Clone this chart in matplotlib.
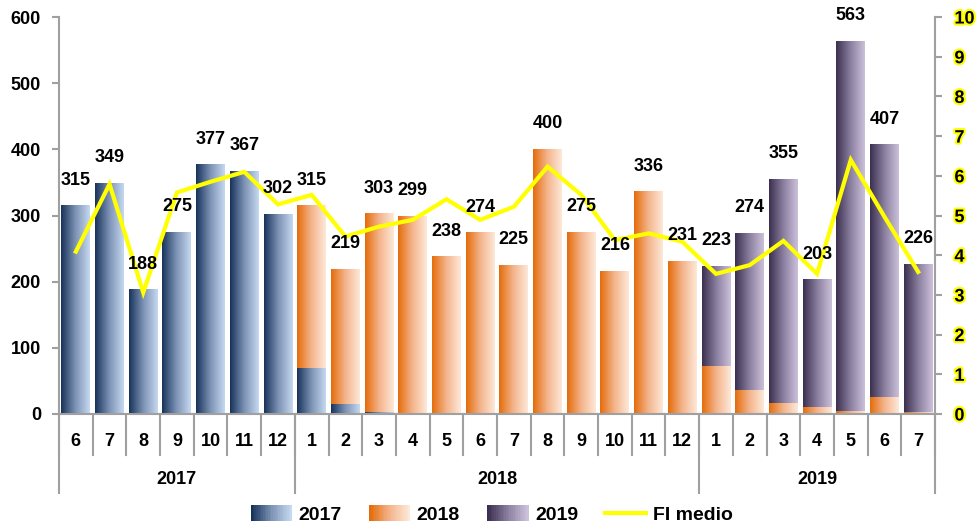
import numpy as np
import matplotlib
matplotlib.use("Agg")
import matplotlib.pyplot as plt
import matplotlib.patheffects as pe
from matplotlib.colors import LinearSegmentedColormap
from matplotlib.legend_handler import HandlerBase
from matplotlib.patches import Rectangle
from matplotlib.lines import Line2D
from matplotlib.transforms import blended_transform_factory

plt.rcParams["font.family"] = ["Liberation Sans Narrow", "Liberation Sans", "DejaVu Sans"]
plt.rcParams["font.weight"] = "bold"

months = [6, 7, 8, 9, 10, 11, 12,
          1, 2, 3, 4, 5, 6, 7, 8, 9, 10, 11, 12,
          1, 2, 3, 4, 5, 6, 7]
years = ["2017", "2018", "2019"]
year_counts = [7, 12, 7]

# stacked parts of each month's bar, by year of origin
s2017 = [315, 349, 188, 275, 377, 367, 302,
         70, 15, 3, 0, 0, 0, 0, 0, 0, 0, 0, 0,
         0, 0, 0, 0, 0, 0, 0]
s2018 = [0, 0, 0, 0, 0, 0, 0,
         245, 204, 300, 299, 238, 274, 225, 400, 275, 216, 336, 231,
         73, 37, 17, 10, 5, 25, 3]
s2019 = [0, 0, 0, 0, 0, 0, 0,
         0, 0, 0, 0, 0, 0, 0, 0, 0, 0, 0, 0,
         150, 237, 338, 193, 558, 382, 223]
fi_medio = [4.09, 5.79, 3.06, 5.58, 5.85, 6.10, 5.28,
            5.52, 4.47, 4.72, 4.89, 5.41, 4.89, 5.22, 6.23, 5.52, 4.38, 4.55, 4.34,
            3.53, 3.75, 4.36, 3.53, 6.40, 4.97, 3.58]

cmaps = {
    "2017": LinearSegmentedColormap.from_list("c17", ["#17325a", "#7d93b5", "#c6d9f1"]),
    "2018": LinearSegmentedColormap.from_list("c18", ["#e46c0a", "#f4b48c", "#fde9d9"]),
    "2019": LinearSegmentedColormap.from_list("c19", ["#3b2f4f", "#8b7fa0", "#ccc1da"]),
}


class GradientHandler(HandlerBase):
    def __init__(self, cmap):
        super().__init__()
        self.cmap = cmap

    def create_artists(self, legend, orig_handle, xdescent, ydescent,
                       width, height, fontsize, trans):
        n = 24
        out = []
        for i in range(n):
            r = Rectangle((-xdescent + i * width / n, -ydescent - 1), width / n + 0.3, height + 2,
                          facecolor=self.cmap(i / (n - 1)), edgecolor="none", transform=trans)
            out.append(r)
        return out


fig = plt.figure(figsize=(9.78, 5.29), dpi=100)
ax = fig.add_axes([59 / 978, (529 - 414) / 529, (935 - 59) / 978, 397 / 529])
ax2 = ax.twinx()

x = np.arange(len(months))
w = 0.86
grad = np.linspace(0, 1, 256).reshape(1, -1)
series = [("2017", s2017), ("2018", s2018), ("2019", s2019)]
bottom = np.zeros(len(months))
for name, vals in series:
    vals = np.array(vals, dtype=float)
    for xi, b, h in zip(x, bottom, vals):
        if h > 0:
            ax.imshow(grad, cmap=cmaps[name], aspect="auto",
                      extent=[xi - w / 2, xi + w / 2, b, b + h], zorder=2)
    bottom += vals
totals = bottom

ax.set_xlim(-0.5, len(months) - 0.5)
ax.set_ylim(0, 600)
ax.set_yticks(range(0, 601, 100))
ax.tick_params(axis="y", labelsize=13, length=5, width=1.5, color="#a0a0a0", pad=8)
ax.set_xticks([])
for s in ["top", "right"]:
    ax.spines[s].set_visible(False)
for s in ["left", "bottom"]:
    ax.spines[s].set_color("#a0a0a0")
    ax.spines[s].set_linewidth(1.5)

ax2.plot(x, fi_medio, color="#ffff00", lw=3, zorder=3, solid_joinstyle="miter")
ax2.set_ylim(0, 10)
ax2.set_yticks(range(0, 11))
ax2.tick_params(axis="y", labelsize=13, length=5, width=1.5, color="#a0a0a0", pad=9)
for lab in ax2.get_yticklabels():
    lab.set_path_effects([pe.withStroke(linewidth=3, foreground="#ffff00")])
for s in ["top", "left", "bottom"]:
    ax2.spines[s].set_visible(False)
ax2.spines["right"].set_color("#a0a0a0")
ax2.spines["right"].set_linewidth(1.5)

# value labels above the bars, drawn over the line
for xi, t in zip(x, totals):
    ax2.annotate(f"{int(t)}", xy=(xi, t), xycoords=ax.transData,
                 xytext=(0, 17), textcoords="offset pixels",
                 ha="center", va="bottom", fontsize=13, zorder=5)

# two-level category axis
tr = blended_transform_factory(ax.transData, ax.transAxes)
y_sep = (414 - 455) / 397
y_year = (414 - 493) / 397
for b in np.arange(-0.5, len(months), 1):
    ax.plot([b, b], [0, y_sep], transform=tr, clip_on=False, color="#a0a0a0", lw=1.5)
for xi, m in zip(x, months):
    ax.text(xi, (414 - 441) / 397, str(m), transform=tr, ha="center", va="center", fontsize=13)
start = -0.5
for yr, n in zip(years, year_counts):
    ax.plot([start, start], [0, y_year], transform=tr, clip_on=False, color="#a0a0a0", lw=1.5)
    ax.text(start + n / 2, (414 - 479) / 397, yr, transform=tr, ha="center", va="center", fontsize=13)
    start += n
ax.plot([start, start], [0, y_year], transform=tr, clip_on=False, color="#a0a0a0", lw=1.5)

handles = [Rectangle((0, 0), 1, 1) for _ in range(3)] + [Line2D([], [], color="#ffff00", lw=3)]
handler_map = {h: GradientHandler(cmaps[y]) for h, y in zip(handles[:3], years)}
fig.legend(handles, years + ["FI medio"], handler_map=handler_map,
           loc="center", bbox_to_anchor=(0.503, (529 - 515) / 529), ncol=4, frameon=False,
           fontsize=14, handlelength=2.1, handletextpad=0.35, columnspacing=1.4)

fig.savefig("out.png", dpi=100)
